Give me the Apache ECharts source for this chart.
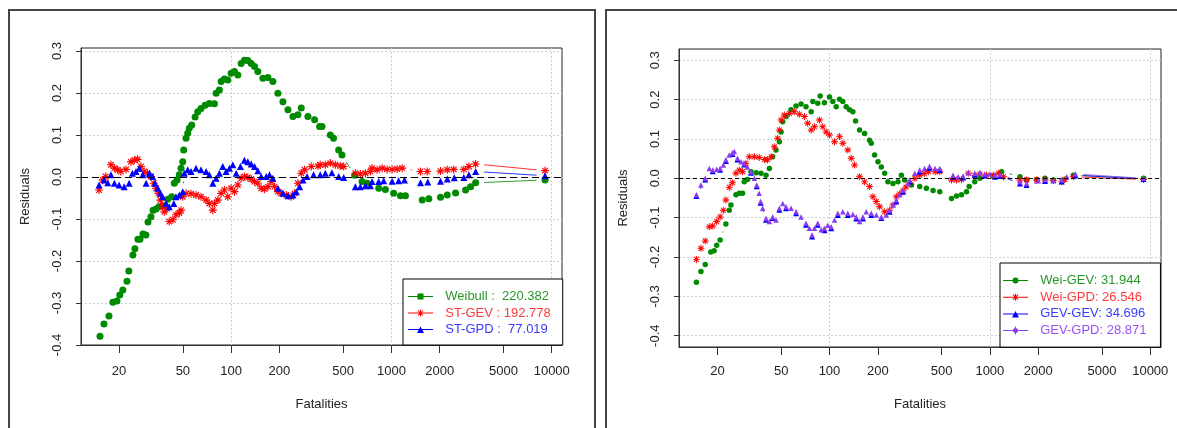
<!DOCTYPE html>
<html>
<head>
<meta charset="utf-8">
<title>Residuals vs Fatalities</title>
<script src="https://cdn.jsdelivr.net/npm/echarts@6.0.0/dist/echarts.min.js"></script>
<style>
  html, body { margin: 0; padding: 0; background: #fff; }
  #chart { width: 1177px; height: 428px; }
</style>
</head>
<body>
<div id="chart"></div>
<script>
// ---- data: [fatalities, residual] ----
const weibull = [[15.2,-0.379],[16.1,-0.350],[17.3,-0.331],[18.3,-0.298],[19.4,-0.295],[20.2,-0.281],[21.1,-0.269],[22.4,-0.248],[23.0,-0.224],[24.4,-0.186],[25.1,-0.171],[26.2,-0.148],[27.0,-0.148],[28.2,-0.136],[29.4,-0.138],[30.3,-0.107],[31.6,-0.095],[32.6,-0.079],[34.0,-0.076],[35.5,-0.071],[37.4,-0.068],[40.2,-0.053],[42.6,-0.047],[44.2,-0.015],[46.0,-0.007],[47.5,0.005],[48.7,0.021],[49.9,0.036],[50.6,0.064],[52.3,0.092],[53.6,0.104],[54.8,0.116],[56.8,0.124],[59.6,0.143],[61.9,0.155],[64.9,0.163],[68.8,0.171],[73.1,0.175],[78.7,0.174],[80.6,0.199],[84.5,0.207],[86.6,0.227],[90.8,0.233],[95.3,0.231],[100,0.247],[104.9,0.251],[110.1,0.243],[115.5,0.270],[121.1,0.278],[127.1,0.277],[133.4,0.270],[139.9,0.263],[146.8,0.251],[157.8,0.235],[169.5,0.237],[182.2,0.227],[195.8,0.199],[210.4,0.179],[226.1,0.160],[243.0,0.144],[261.1,0.148],[273.8,0.164],[301.4,0.144],[331.6,0.136],[356.3,0.120],[368.9,0.120],[415.7,0.100],[435.5,0.092],[468.6,0.064],[491.7,0.052],[590,0.004],[656,-0.011],[705,-0.015],[833,-0.027],[917,-0.030],[1032,-0.039],[1138,-0.045],[1223,-0.045],[1556,-0.055],[1711,-0.052],[2023,-0.048],[2229,-0.043],[2512,-0.038],[2901,-0.031],[3118,-0.023],[3350,-0.014],[9080,-0.007]];
const stGev = [[15.0,-0.031],[15.8,-0.007],[16.5,0.001],[17.8,0.029],[18.7,0.021],[19.6,0.017],[20.5,0.013],[22.1,0.018],[23.7,0.036],[24.9,0.040],[26.1,0.042],[27.4,0.025],[28.7,0.013],[30.1,0.009],[31.6,0.001],[32.9,-0.015],[34.0,-0.027],[35.2,-0.039],[36.2,-0.055],[37.4,-0.071],[38.3,-0.083],[39.8,-0.075],[41.1,-0.106],[43.3,-0.102],[45.3,-0.090],[47.5,-0.086],[48.7,-0.079],[49.9,-0.047],[52.3,-0.039],[56.2,-0.040],[60.4,-0.043],[64.9,-0.047],[69.8,-0.055],[73.1,-0.063],[76.9,-0.079],[78.7,-0.063],[82.6,-0.055],[86.6,-0.039],[90.8,-0.031],[95.3,-0.047],[100,-0.027],[104.9,-0.035],[110.1,-0.019],[115.5,-0.003],[121.1,0.001],[127.1,-0.001],[133.4,-0.005],[139.9,-0.011],[146.8,-0.015],[154.0,-0.027],[161.6,-0.029],[169.5,-0.023],[177.8,-0.011],[186.6,-0.023],[195.8,-0.035],[205.4,-0.039],[220.9,-0.043],[237.1,-0.047],[248.8,-0.039],[261.1,-0.015],[273.8,0.009],[287.4,0.017],[316.2,0.025],[348.4,0.026],[359.4,0.029],[386.7,0.029],[415.7,0.033],[446.7,0.029],[479.7,0.026],[503.6,0.025],[595.7,0.009],[640,0.007],[688,0.009],[739.5,0.013],[757,0.021],[814,0.017],[875,0.021],[940,0.018],[1010,0.018],[1086,0.019],[1167,0.021],[1518,0.013],[1671,0.013],[2023,0.014],[2229,0.017],[2447,0.018],[2829,0.018],[3041,0.025],[3350,0.031],[9080,0.015]];
const stGpd = [[15.0,-0.019],[16.1,-0.007],[17.0,-0.014],[17.8,0.005],[18.7,-0.015],[20.0,-0.019],[21.5,-0.023],[23.1,-0.015],[24.2,0.009],[25.5,0.013],[26.7,0.021],[28.1,0.005],[29.5,-0.015],[30.9,0.009],[32.4,0.001],[33.5,-0.015],[34.9,-0.027],[36.2,-0.039],[37.4,-0.047],[39.3,-0.063],[41.1,-0.071],[43.9,-0.063],[45.3,-0.047],[47.5,-0.043],[49.9,-0.035],[51.1,0.009],[53.6,0.017],[56.2,0.013],[60.4,0.021],[64.9,0.017],[69.8,0.013],[73.1,0.005],[76.9,-0.015],[80.6,-0.003],[84.5,0.009],[88.7,0.025],[93.0,0.013],[97.6,0.021],[102.5,0.029],[107.5,0.009],[114.3,0.025],[121.1,0.040],[127.1,0.036],[133.4,0.031],[139.9,0.025],[146.8,0.015],[154,0.001],[165.5,0.001],[173.5,0.005],[182.2,-0.003],[195.8,-0.027],[210.4,-0.039],[226.1,-0.045],[243.0,-0.043],[254.9,-0.035],[267.4,-0.023],[280.7,-0.007],[297.6,0.001],[326.7,0.005],[359.4,0.005],[386.7,0.009],[425,0.010],[468.6,0.001],[503.6,-0.001],[595.7,-0.023],[640,-0.023],[688,-0.021],[739.5,-0.021],[757,-0.011],[833,-0.011],[895,-0.009],[1010,-0.010],[1110,-0.009],[1206,-0.007],[1518,-0.014],[1686,-0.012],[2023,-0.010],[2229,-0.005],[2468,-0.002],[2829,-0.001],[3041,0.005],[3350,0.013],[9080,0.003]];

const weiGev = [[14.8,-0.264],[15.8,-0.237],[16.8,-0.219],[18.2,-0.187],[19.1,-0.184],[19.8,-0.170],[20.8,-0.157],[22.6,-0.116],[23.7,-0.081],[24.3,-0.068],[26.1,-0.042],[27.4,-0.038],[28.7,-0.038],[29.4,-0.009],[30.8,-0.003],[32.4,0.017],[34.9,0.014],[37.4,0.013],[40.2,0.008],[42.2,0.025],[44.2,0.055],[46.4,0.072],[48.7,0.093],[49.9,0.118],[51.1,0.144],[53.6,0.157],[57.6,0.174],[61.9,0.184],[66.5,0.189],[71.4,0.182],[76.9,0.169],[78.7,0.195],[84.5,0.191],[87.5,0.209],[93.0,0.192],[100,0.207],[104.9,0.195],[110.1,0.182],[115.5,0.201],[121.1,0.195],[127.1,0.182],[133.4,0.174],[139.9,0.169],[145.4,0.146],[154.0,0.123],[165.5,0.114],[177.8,0.097],[182.2,0.089],[191.1,0.059],[200.6,0.042],[210.4,0.029],[220.9,0.013],[231.4,-0.009],[248.8,-0.013],[267.4,-0.009],[280.7,0.008],[294,-0.004],[324.6,-0.017],[365.2,-0.021],[401.9,-0.025],[442.5,-0.031],[487,-0.034],[576.6,-0.051],[619.9,-0.045],[665.5,-0.042],[714.7,-0.034],[742.8,-0.021],[805.3,-0.009],[865.9,0.000],[1049,0.006],[1183,0.017],[1540,0.004],[1694,-0.004],[1959,-0.003],[2207,0.000],[2487,-0.004],[2871,-0.004],[3318,0.008],[9080,0.000]];
const weiGpd = [[14.8,-0.206],[15.8,-0.178],[16.8,-0.159],[17.8,-0.123],[18.7,-0.121],[19.8,-0.110],[20.8,-0.098],[21.8,-0.081],[22.6,-0.055],[23.7,-0.023],[24.8,-0.011],[26.1,0.013],[27.4,0.021],[28.7,0.017],[30.1,0.038],[31.6,0.055],[34.0,0.055],[36.5,0.053],[39.3,0.048],[41.1,0.047],[43.3,0.055],[45.3,0.080],[47.5,0.102],[48.7,0.123],[49.9,0.148],[52.3,0.161],[56.2,0.165],[60.4,0.169],[64.9,0.163],[69.8,0.157],[73.1,0.140],[76.9,0.123],[80.6,0.131],[86.6,0.148],[90.8,0.131],[95.3,0.118],[100,0.110],[107.5,0.093],[115.5,0.106],[121.1,0.089],[130.1,0.072],[136.6,0.051],[143.3,0.034],[154,0.004],[165.5,-0.009],[177.8,-0.021],[186.5,-0.047],[195.8,-0.059],[205.4,-0.072],[220.9,-0.085],[237.1,-0.081],[248.8,-0.068],[261.1,-0.047],[273.8,-0.040],[287,-0.032],[300,-0.022],[316.2,-0.012],[340.5,0.000],[365.2,0.008],[390,0.012],[413.6,0.017],[455.3,0.017],[487,0.017],[576.6,-0.004],[619.9,-0.004],[665.5,-0.003],[734,0.013],[805.3,0.008],[865.9,0.011],[952,0.008],[1049,0.008],[1128,0.013],[1214,0.004],[1540,-0.004],[1694,-0.004],[1959,-0.004],[2207,-0.004],[2487,-0.006],[2805,-0.009],[2938,-0.003],[3318,0.004],[9080,-0.003]];
const gevGev = [[14.8,-0.045],[16.8,-0.003],[18.7,0.018],[20.8,0.022],[22.6,0.044],[24.8,0.062],[26.7,0.048],[29.4,0.035],[32.4,0.014],[35.2,-0.020],[37.2,-0.062],[40.2,-0.105],[44.2,-0.101],[48.7,-0.080],[53.6,-0.076],[61.9,-0.089],[71.4,-0.118],[77.9,-0.148],[84.5,-0.118],[93.0,-0.132],[102.5,-0.127],[112.7,-0.093],[130.1,-0.093],[146.8,-0.102],[161.6,-0.102],[182.2,-0.093],[210.4,-0.101],[237.1,-0.085],[261.1,-0.059],[287.4,-0.034],[316.2,-0.008],[365.2,0.017],[420.2,0.027],[487,0.021],[589.6,0.004],[681,0.002],[805,0.009],[930,0.007],[1075,0.004],[1155,0.006],[1540,-0.013],[1694,-0.017],[2207,-0.007],[2805,-0.008],[3412,0.008],[9080,-0.002]];
const gevGpd = [[14.8,-0.042],[15.8,-0.017],[16.8,0.000],[17.8,0.025],[18.7,0.021],[19.8,0.023],[20.8,0.025],[21.8,0.034],[22.6,0.047],[23.7,0.059],[24.8,0.065],[25.5,0.068],[26.7,0.051],[28.1,0.042],[29.4,0.038],[30.8,0.029],[32.4,0.017],[34.0,0.000],[35.2,-0.017],[36.4,-0.038],[37.2,-0.059],[38.3,-0.076],[40.2,-0.102],[42.2,-0.110],[44.2,-0.098],[46.4,-0.106],[48.7,-0.076],[51.1,-0.064],[53.6,-0.072],[57.6,-0.076],[61.9,-0.085],[66.5,-0.098],[71.4,-0.114],[75.0,-0.127],[77.9,-0.144],[80.6,-0.127],[84.5,-0.114],[88.7,-0.131],[93.0,-0.127],[97.6,-0.119],[102.5,-0.123],[107.5,-0.106],[112.7,-0.089],[121.1,-0.085],[130.1,-0.089],[139.9,-0.091],[146.8,-0.098],[154.0,-0.110],[161.6,-0.098],[169.5,-0.085],[182.2,-0.089],[195.8,-0.093],[210.4,-0.098],[226.1,-0.093],[237.1,-0.081],[248.8,-0.068],[261.1,-0.055],[273.8,-0.042],[287.4,-0.030],[308.9,-0.013],[316.2,-0.004],[340.5,0.013],[365.2,0.021],[391.7,0.025],[420.2,0.031],[455.3,0.025],[487,0.025],[589.6,0.008],[633.9,0.004],[681,0.006],[734,0.014],[805,0.013],[866,0.014],[930,0.011],[1000,0.011],[1075,0.008],[1155,0.010],[1540,-0.009],[1694,-0.013],[2007,-0.006],[2207,-0.003],[2487,-0.006],[2805,-0.004],[3015,0.004],[3412,0.011],[9080,0.000]];

const namesLeft = ['Weibull :  220.382', 'ST-GEV : 192.778', 'ST-GPD :  77.019'];
const namesRight = ['Wei-GEV: 31.944', 'Wei-GPD: 26.546', 'GEV-GEV: 34.696', 'GEV-GPD: 28.871'];
const xTicks = [20, 50, 100, 200, 500, 1000, 2000, 5000, 10000];
const xGridTicks = [100, 1000, 10000];
const yTicks = [-0.4, -0.3, -0.2, -0.1, 0.0, 0.1, 0.2, 0.3];

// ---- styling ----
const FONT = "'Liberation Sans', Arial, sans-serif";
const GREEN = '#008a00', RED = '#ff0000', BLUE = '#0000ff', PURPLE = '#8a3cf2';

// asterisk (R pch 8) as filled path
const STAR = 'path://M-1,-0.14 L1,-0.14 L1,0.14 L-1,0.14 Z M0.14,-1 L0.14,1 L-0.14,1 L-0.14,-1 Z ' +
  'M-0.6,-0.8 L0.8,0.6 L0.6,0.8 L-0.8,-0.6 Z M-0.8,0.6 L0.6,-0.8 L0.8,-0.6 L-0.6,0.8 Z';

// legend icons: line with symbol in the middle
const BOX = 'M0,0 L0.01,0 L0.01,0.01 Z M25,8 L24.99,8 L24.99,7.99 Z ';
const LN = 'M0,3.5 L25,3.5 L25,4.5 L0,4.5 Z ';
const icSquare = 'path://' + BOX + LN + 'M9.5,1 L15.5,1 L15.5,7 L9.5,7 Z';
const icStar = 'path://' + BOX + LN + 'M13,0.5 L13,7.5 L12,7.5 L12,0.5 Z M10.35,1.15 L15.35,6.15 L14.65,6.85 L9.65,1.85 Z M9.65,6.15 L14.65,1.15 L15.35,1.85 L10.35,6.85 Z';
const icTri = 'path://' + BOX + LN + 'M9,7.5 L12.5,1 L16,7.5 Z';
const icDot = 'path://' + BOX + LN + 'M9.5,4 A3,3 0 1,1 15.5,4 A3,3 0 1,1 9.5,4 Z';
const icPhi = 'path://' + BOX + LN + 'M10,4 A2.5,2.5 0 1,1 15,4 A2.5,2.5 0 1,1 10,4 Z M13,0 L13,8 L12,8 L12,0 Z';

function lg(pts) {
  return pts.map(p => [Math.log10(p[0]), p[1]]);
}

function points(name, pts, symbol, size, color, gi) {
  return {
    type: 'scatter', name: name, xAxisIndex: gi, yAxisIndex: gi,
    data: lg(pts), symbol: symbol, symbolSize: size,
    itemStyle: { color: color, opacity: 1 }, z: 3, silent: true
  };
}

// R type="b": segments between points, cut back near each point
function gapLines(name, pts, color, gi, gap) {
  const d = lg(pts);
  return {
    type: 'custom', name: name, xAxisIndex: gi, yAxisIndex: gi, data: d, z: 2, silent: true,
    itemStyle: { color: color },
    renderItem: function (params, api) {
      const i = params.dataIndex;
      if (i >= d.length - 1) return;
      const a = api.coord(d[i]), b = api.coord(d[i + 1]);
      const dx = b[0] - a[0], dy = b[1] - a[1], len = Math.hypot(dx, dy);
      if (len <= 2 * gap) return;
      const ux = dx / len, uy = dy / len;
      return {
        type: 'line',
        shape: { x1: a[0] + ux * gap, y1: a[1] + uy * gap, x2: b[0] - ux * gap, y2: b[1] - uy * gap },
        style: { stroke: color, lineWidth: 1, opacity: 0.8 }
      };
    }
  };
}

function zeroLine(gi, dash) {
  return {
    type: 'line', xAxisIndex: gi, yAxisIndex: gi, data: [], silent: true, z: 1,
    markLine: {
      silent: true, symbol: ['none', 'none'], label: { show: false }, animation: false,
      lineStyle: { color: '#000', width: 1, type: dash },
      data: [{ yAxis: 0 }]
    }
  };
}

function mainX(gi, min, max, margin, nameGap) {
  return {
    gridIndex: gi, type: 'value', min: min, max: max, position: 'bottom',
    name: 'Fatalities', nameLocation: 'middle', nameGap: nameGap,
    nameTextStyle: { fontFamily: FONT, fontSize: 13, color: '#222' },
    axisLine: { show: true, onZero: false, lineStyle: { color: '#333', width: 1 } },
    axisTick: { show: true, length: 8, customValues: xTicks.map(Math.log10), lineStyle: { color: '#333' } },
    axisLabel: {
      customValues: xTicks.map(Math.log10), margin: margin,
      fontFamily: FONT, fontSize: 13, color: '#222',
      formatter: v => String(Math.round(Math.pow(10, v)))
    },
    splitLine: { show: false }
  };
}

function gridX(gi, min, max) {
  return {
    gridIndex: gi, type: 'value', min: min, max: max, position: 'top',
    axisLine: { show: false },
    axisTick: { show: false, customValues: xGridTicks.map(Math.log10) },
    axisLabel: { show: false, customValues: xGridTicks.map(Math.log10) },
    splitLine: { show: true, lineStyle: { color: '#cfcfcf', type: [2, 2], width: 1 } }
  };
}

function mainY(gi, min, max) {
  return {
    gridIndex: gi, type: 'value', min: min, max: max,
    name: 'Residuals', nameLocation: 'middle', nameGap: 49,
    nameTextStyle: { fontFamily: FONT, fontSize: 13, color: '#222' },
    axisLine: { show: true, onZero: false, lineStyle: { color: '#333', width: 1 } },
    axisTick: { show: true, length: 5, customValues: yTicks, lineStyle: { color: '#333' } },
    axisLabel: {
      customValues: yTicks, rotate: 90, margin: 17,
      fontFamily: FONT, fontSize: 13, color: '#222',
      formatter: v => v.toFixed(1)
    },
    splitLine: { show: true, lineStyle: { color: '#cfcfcf', type: [2, 2], width: 1 } }
  };
}

function legendBox(left, top, padding, gap, items) {
  return {
    orient: 'vertical', left: left, top: top, padding: padding, itemGap: gap,
    itemWidth: 25, itemHeight: 8, selectedMode: false,
    borderColor: '#000', borderWidth: 1, backgroundColor: '#fff', borderRadius: 0,
    textStyle: { fontFamily: FONT, fontSize: 13 },
    formatter: n => '  ' + n,
    data: items
  };
}

function legendItem(name, icon, color, textColor) {
  return { name: name, icon: icon, itemStyle: { color: color, borderWidth: 0 }, textStyle: { color: textColor } };
}

const chart = echarts.init(document.getElementById('chart'), null, { renderer: 'canvas' });

const option = {
  animation: false,
  backgroundColor: '#fff',
  graphic: [
    { type: 'rect', shape: { x: 9, y: 10, width: 586, height: 440 }, style: { fill: 'none', stroke: '#444', lineWidth: 2 }, silent: true },
    { type: 'rect', shape: { x: 606, y: 10, width: 620, height: 440 }, style: { fill: 'none', stroke: '#444', lineWidth: 2 }, silent: true }
  ],
  grid: [
    { left: 81, top: 48, width: 481, height: 297, show: true, borderColor: '#222', borderWidth: 1, backgroundColor: 'transparent' },
    { left: 679, top: 49, width: 482, height: 298, show: true, borderColor: '#222', borderWidth: 1, backgroundColor: 'transparent' }
  ],
  xAxis: [
    mainX(0, 1.0635, 4.064, 20, 53),
    mainX(1, 1.0617, 4.067, 18, 51),
    gridX(0, 1.0635, 4.064),
    gridX(1, 1.0617, 4.067)
  ],
  yAxis: [
    mainY(0, -0.4, 0.307),
    mainY(1, -0.4287, 0.3287)
  ],
  legend: [
    legendBox(403, 279, [11, 12, 9, 5], 3.5, [
      legendItem(namesLeft[0], icSquare, GREEN, '#2a962a'),
      legendItem(namesLeft[1], icStar, RED, '#ff3a3a'),
      legendItem(namesLeft[2], icTri, BLUE, '#3a3aff')
    ]),
    legendBox(1000, 263, [11, 14, 10, 3], 3.7, [
      legendItem(namesRight[0], icDot, GREEN, '#2a962a'),
      legendItem(namesRight[1], icStar, RED, '#ff3a3a'),
      legendItem(namesRight[2], icTri, BLUE, '#3a3aff'),
      legendItem(namesRight[3], icPhi, PURPLE, '#9a50f2')
    ])
  ],
  series: [
    zeroLine(0, [7, 4]),
    zeroLine(1, [4, 3]),

    points(namesLeft[0], weibull, 'circle', 7, GREEN, 0),
    points(namesLeft[1], stGev, STAR, 8, RED, 0),
    points(namesLeft[2], stGpd, 'triangle', 7, BLUE, 0),
    gapLines(namesLeft[0], weibull, GREEN, 0, 8.5),
    gapLines(namesLeft[1], stGev, RED, 0, 8.5),
    gapLines(namesLeft[2], stGpd, BLUE, 0, 8.5),

    points(namesRight[0], weiGev, 'circle', 5.5, GREEN, 1),
    points(namesRight[1], weiGpd, STAR, 7, RED, 1),
    points(namesRight[2], gevGev, 'triangle', 6, BLUE, 1),
    points(namesRight[3], gevGpd, 'triangle', 5.5, PURPLE, 1),
    gapLines(namesRight[0], weiGev, GREEN, 1, 8),
    gapLines(namesRight[1], weiGpd, RED, 1, 8),
    gapLines(namesRight[2], gevGev, BLUE, 1, 8),
    gapLines(namesRight[3], gevGpd, PURPLE, 1, 8)
  ]
};

chart.setOption(option);
window.addEventListener('resize', () => chart.resize());
</script>
</body>
</html>
